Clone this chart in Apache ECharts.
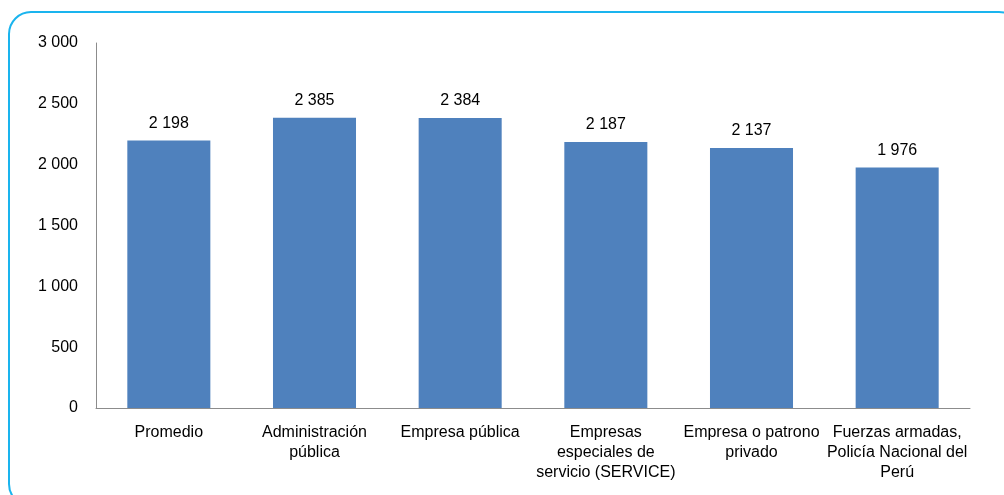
<html><head>
<meta charset="UTF-8">
<title>Ingreso promedio por sector</title>
<script src="https://cdn.jsdelivr.net/npm/echarts@6/dist/echarts.min.js"></script>
<style>
  body { margin: 0; background: #fff; }
  #chart { width: 1004px; height: 495px; }
</style>
</head>
<body>
<div id="chart"></div>
<script>
  // categorias del eje x (saltos de linea como en el original)
  const categories = [
    'Promedio',
    'Administración\npública',
    'Empresa pública',
    'Empresas\nespeciales de\nservicio (SERVICE)',
    'Empresa o patrono\nprivado',
    'Fuerzas armadas,\nPolicía Nacional del\nPerú'
  ];
  const values = [2198, 2385, 2384, 2187, 2137, 1976];

  function fmt(v) {
    return String(v).replace(/\B(?=(\d{3})+(?!\d))/g, ' ');
  }

  const chart = echarts.init(document.getElementById('chart'));
  chart.setOption({
    animation: false,
    textStyle: { fontFamily: 'Liberation Sans, Arial, sans-serif' },
    graphic: [{
      type: 'rect',
      shape: { x: 9, y: 12, width: 1012, height: 494, r: 22 },
      style: { fill: 'none', stroke: '#1ab4ee', lineWidth: 2 },
      silent: true
    }],
    grid: { left: 96, right: 34, top: 43, bottom: 87 },
    xAxis: {
      type: 'category',
      data: categories,
      axisLine: { lineStyle: { color: '#8c8c8c', width: 1 } },
      axisTick: { show: false },
      axisLabel: {
        interval: 0,
        color: '#000',
        fontSize: 16,
        lineHeight: 20,
        margin: 15
      }
    },
    yAxis: {
      type: 'value',
      min: 0,
      max: 3000,
      interval: 500,
      axisLine: { show: true, lineStyle: { color: '#8c8c8c', width: 1 } },
      axisTick: { show: false },
      splitLine: { show: false },
      axisLabel: {
        color: '#000',
        fontSize: 16,
        margin: 18,
        formatter: fmt
      }
    },
    series: [{
      type: 'bar',
      data: values,
      barWidth: '57%',
      itemStyle: { color: '#4f81bd' },
      label: {
        show: true,
        position: 'top',
        distance: 9,
        color: '#000',
        fontSize: 16,
        formatter: p => fmt(p.value)
      }
    }]
  });
</script>
</body></html>
